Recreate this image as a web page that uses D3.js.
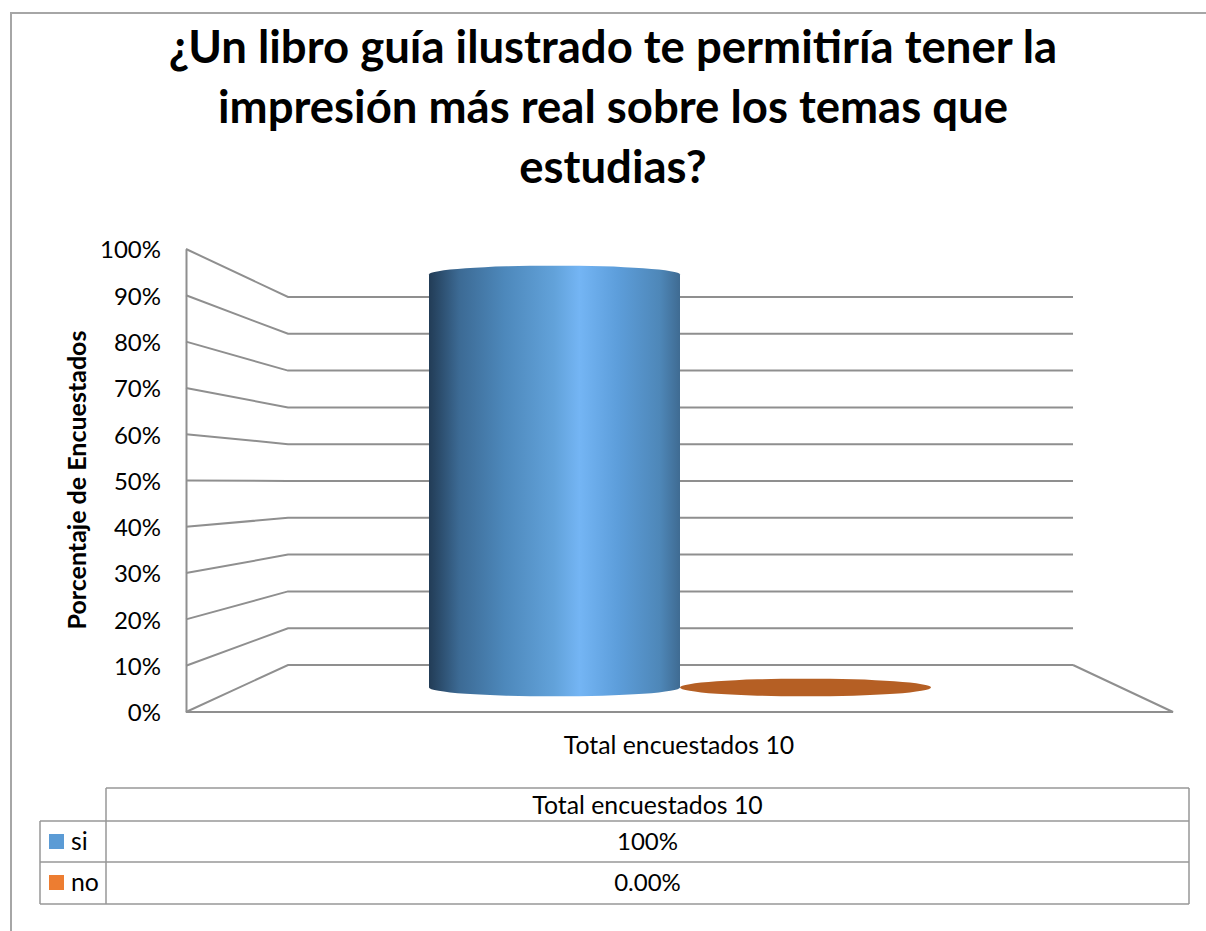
<!DOCTYPE html>
<html>
<head>
<meta charset="utf-8">
<script src="https://cdnjs.cloudflare.com/ajax/libs/d3/7.8.5/d3.min.js"></script>
<style>
  html, body { margin: 0; padding: 0; background: #fff; }
  svg { display: block; }
  text { font-family: Lato, "Open Sans", sans-serif; fill: #000; }
</style>
</head>
<body>
<div id="wrapper"></div>
<script>
const titleLines = [
  '¿Un libro guía ilustrado te permitiría tener la',
  'impresión más real sobre los temas que',
  'estudias?'
]
const yAxisTitle = 'Porcentaje de Encuestados'
const categoryLabel = 'Total encuestados 10'
const seriesNames = ['si', 'no']
const seriesValues = [1, 0]
const seriesTableLabels = ['100%', '0.00%']
const yTicks = [0, 0.1, 0.2, 0.3, 0.4, 0.5, 0.6, 0.7, 0.8, 0.9, 1]

const width = 1206
const height = 931
const gridColor = '#8f8f8f'

const svg = d3.select('#wrapper')
  .append('svg')
  .attr('width', width)
  .attr('height', height)

// outer chart frame, cropped at right and bottom
svg.append('path')
  .attr('d', `M11,${height}V13H${width}`)
  .attr('fill', 'none')
  .attr('stroke', '#a6a6a6')
  .attr('stroke-width', 2)

// title
svg.append('g').selectAll('text')
  .data(titleLines)
  .enter().append('text')
  .attr('x', 613)
  .attr('y', (d, i) => 63 + i * 60)
  .attr('text-anchor', 'middle')
  .style('font-size', '45.5px')
  .style('font-weight', 700)
  .text(d => d)

// 3d box: front edge and back wall have their own scales
const yFront = d3.scaleLinear().domain([0, 1]).range([712, 249])
const yBack = d3.scaleLinear().domain([0, 1]).range([665, 297])
const yMid = d3.scaleLinear().domain([0, 1]).range([687.5, 274.5])
const frontLeft = 186
const backLeft = 288
const backRight = 1073
const frontRight = 1173

const grid = svg.append('g')
  .attr('fill', 'none')
  .attr('stroke', gridColor)
  .attr('stroke-width', 2)

grid.selectAll('path')
  .data(yTicks)
  .enter().append('path')
  .attr('d', d => `M${frontLeft},${yFront(d)}L${backLeft},${yBack(d)}H${backRight}`)

grid.append('path')
  .attr('d', `M${backRight},${yBack(0)}L${frontRight},${yFront(0)}H${frontLeft}`)

// axis
const yAxisGenerator = d3.axisLeft(yFront)
  .tickValues(yTicks)
  .tickFormat(d3.format('.0%'))
  .tickSize(0)
  .tickPadding(25)

const yAxis = svg.append('g')
  .attr('transform', `translate(${frontLeft},0)`)
  .call(yAxisGenerator)

yAxis.select('.domain')
  .attr('stroke', gridColor)
  .attr('stroke-width', 2)

yAxis.selectAll('text')
  .attr('dy', '0.37em')
  .style('font-family', 'Lato, "Open Sans", sans-serif')
  .style('font-size', '24px')

svg.append('text')
  .attr('transform', 'translate(86,480) rotate(-90)')
  .attr('text-anchor', 'middle')
  .style('font-size', '25px')
  .style('font-weight', 700)
  .text(yAxisTitle)

svg.append('text')
  .attr('x', 679)
  .attr('y', 754)
  .attr('text-anchor', 'middle')
  .style('font-size', '24.8px')
  .text(categoryLabel)

// cylinders
const xScale = d3.scaleBand().domain(seriesNames).range([429, 931])
const ry = 8.8

const defs = svg.append('defs')
const gradient = defs.append('linearGradient')
  .attr('id', 'cylinder-si')
  .attr('x1', 0).attr('x2', 1).attr('y1', 0).attr('y2', 0)
const gradientStops = [
  [0, '#223c56'], [0.12, '#3c6a94'], [0.3, '#4d88bb'],
  [0.5, '#62a2da'], [0.6, '#74b5f4'], [0.75, '#5d9edb'],
  [0.92, '#4e87b8'], [1, '#3f6b92']
]
gradient.selectAll('stop')
  .data(gradientStops)
  .enter().append('stop')
  .attr('offset', d => d[0])
  .attr('stop-color', d => d[1])

const cylinderFill = ['url(#cylinder-si)', '#b55f24']

svg.append('g').selectAll('path')
  .data(seriesValues)
  .enter().append('path')
  .attr('fill', (d, i) => cylinderFill[i])
  .attr('d', (d, i) => {
    const x0 = xScale(seriesNames[i])
    const x1 = x0 + xScale.bandwidth()
    const rx = xScale.bandwidth() / 2
    const top = yMid(d)
    const bottom = yMid(0)
    return `M${x0},${top}A${rx},${ry} 0 0 1 ${x1},${top}V${bottom}A${rx},${ry} 0 0 1 ${x0},${bottom}Z`
  })

// data table
const tableLeft = 40
const tableCol = 106
const tableRight = 1189
const rowY = [788, 821, 862, 904]

const table = svg.append('g')
  .attr('fill', 'none')
  .attr('stroke', '#979797')
  .attr('stroke-width', 1.5)

table.append('path').attr('d', `M${tableCol},${rowY[0]}H${tableRight}`)
table.selectAll('.row')
  .data(rowY.slice(1))
  .enter().append('path')
  .attr('d', d => `M${tableLeft},${d}H${tableRight}`)
table.append('path').attr('d', `M${tableLeft},${rowY[1]}V${rowY[3]}`)
table.append('path').attr('d', `M${tableCol},${rowY[0]}V${rowY[3]}`)
table.append('path').attr('d', `M${tableRight},${rowY[0]}V${rowY[3]}`)

const tableCenter = (tableCol + tableRight) / 2

svg.append('text')
  .attr('x', tableCenter)
  .attr('y', 814)
  .attr('text-anchor', 'middle')
  .style('font-size', '24.8px')
  .text(categoryLabel)

const legendColors = ['#5b9bd5', '#ed7d31']

const rows = svg.append('g').selectAll('g')
  .data(seriesNames)
  .enter().append('g')

rows.append('rect')
  .attr('x', 49)
  .attr('y', (d, i) => rowY[i + 1] + 13)
  .attr('width', 15)
  .attr('height', 15)
  .attr('fill', (d, i) => legendColors[i])

rows.append('text')
  .attr('x', 71)
  .attr('y', (d, i) => rowY[i + 1] + 29)
  .style('font-size', '24.8px')
  .text(d => d)

rows.append('text')
  .attr('x', tableCenter)
  .attr('y', (d, i) => rowY[i + 1] + 29)
  .attr('text-anchor', 'middle')
  .style('font-size', '24px')
  .text((d, i) => seriesTableLabels[i])
</script>
</body>
</html>
